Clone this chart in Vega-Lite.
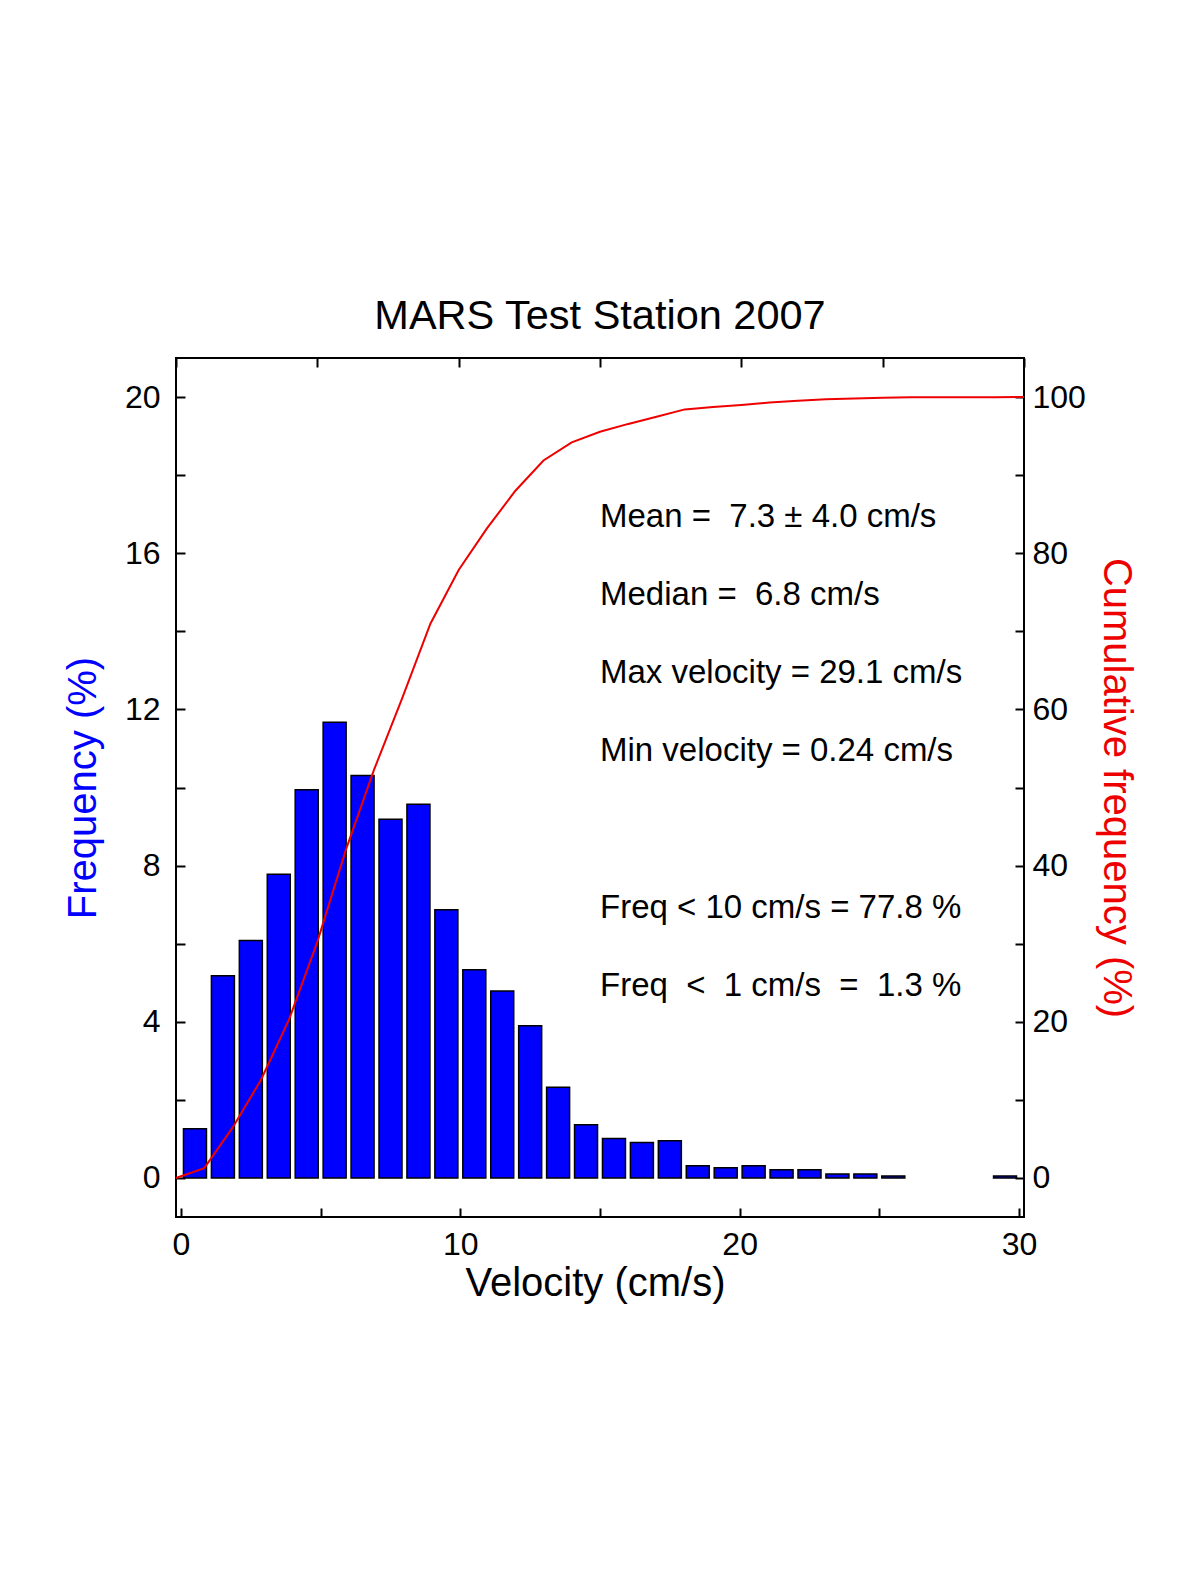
{
  "$schema": "https://vega.github.io/schema/vega-lite/v6.json",
  "width": 848,
  "height": 859,
  "autosize": {"type": "none"},
  "padding": {"left": 176, "top": 358, "right": 176, "bottom": 358},
  "background": "white",
  "config": {
    "font": "Liberation Sans",
    "view": {"stroke": "black", "strokeWidth": 2},
    "axis": {
      "domain": false,
      "grid": false,
      "tickColor": "black",
      "tickWidth": 2,
      "tickSize": -9,
      "labelFont": "Liberation Sans",
      "labelFontSize": 32,
      "labelColor": "black",
      "titleFont": "Liberation Sans",
      "titleFontSize": 40,
      "titleFontWeight": "normal"
    }
  },
  "title": {
    "text": "MARS Test Station 2007",
    "font": "Liberation Sans",
    "fontSize": 41.5,
    "fontWeight": "normal",
    "color": "black",
    "baseline": "alphabetic",
    "offset": -13
  },
  "datasets": {
    "hist": [
      {"velocity": 0.5, "freq": 1.26},
      {"velocity": 1.5, "freq": 5.18},
      {"velocity": 2.5, "freq": 6.08},
      {"velocity": 3.5, "freq": 7.78},
      {"velocity": 4.5, "freq": 9.94},
      {"velocity": 5.5, "freq": 11.67},
      {"velocity": 6.5, "freq": 10.31},
      {"velocity": 7.5, "freq": 9.19},
      {"velocity": 8.5, "freq": 9.57},
      {"velocity": 9.5, "freq": 6.87},
      {"velocity": 10.5, "freq": 5.33},
      {"velocity": 11.5, "freq": 4.79},
      {"velocity": 12.5, "freq": 3.9},
      {"velocity": 13.5, "freq": 2.32},
      {"velocity": 14.5, "freq": 1.36},
      {"velocity": 15.5, "freq": 1.01},
      {"velocity": 16.5, "freq": 0.91},
      {"velocity": 17.5, "freq": 0.95},
      {"velocity": 18.5, "freq": 0.31},
      {"velocity": 19.5, "freq": 0.26},
      {"velocity": 20.5, "freq": 0.31},
      {"velocity": 21.5, "freq": 0.21},
      {"velocity": 22.5, "freq": 0.21},
      {"velocity": 23.5, "freq": 0.1},
      {"velocity": 24.5, "freq": 0.1},
      {"velocity": 25.5, "freq": 0.05},
      {"velocity": 29.5, "freq": 0.05}
    ],
    "cum": [
      {"velocity": 0, "cum": 0},
      {"velocity": 1, "cum": 1.26},
      {"velocity": 2, "cum": 6.44},
      {"velocity": 3, "cum": 12.52},
      {"velocity": 4, "cum": 20.3},
      {"velocity": 5, "cum": 30.24},
      {"velocity": 6, "cum": 41.91},
      {"velocity": 7, "cum": 52.22},
      {"velocity": 8, "cum": 61.41},
      {"velocity": 9, "cum": 70.98},
      {"velocity": 10, "cum": 77.85},
      {"velocity": 11, "cum": 83.18},
      {"velocity": 12, "cum": 87.97},
      {"velocity": 13, "cum": 91.87},
      {"velocity": 14, "cum": 94.19},
      {"velocity": 15, "cum": 95.55},
      {"velocity": 16, "cum": 96.56},
      {"velocity": 17, "cum": 97.47},
      {"velocity": 18, "cum": 98.42},
      {"velocity": 19, "cum": 98.73},
      {"velocity": 20, "cum": 98.99},
      {"velocity": 21, "cum": 99.3},
      {"velocity": 22, "cum": 99.51},
      {"velocity": 23, "cum": 99.72},
      {"velocity": 24, "cum": 99.82},
      {"velocity": 25, "cum": 99.92},
      {"velocity": 26, "cum": 99.97},
      {"velocity": 27, "cum": 99.97},
      {"velocity": 28, "cum": 99.97},
      {"velocity": 29, "cum": 99.97},
      {"velocity": 30, "cum": 100}
    ],
    "notes": [
      {"x": 15, "y": 17, "label": "Mean =\u00a0 7.3 ± 4.0 cm/s"},
      {"x": 15, "y": 15, "label": "Median =\u00a0 6.8 cm/s"},
      {"x": 15, "y": 13, "label": "Max velocity = 29.1 cm/s"},
      {"x": 15, "y": 11, "label": "Min velocity = 0.24 cm/s"},
      {"x": 15, "y": 7, "label": "Freq < 10 cm/s = 77.8 %"},
      {"x": 15, "y": 5, "label": "Freq\u00a0 <\u00a0 1 cm/s\u00a0 =\u00a0 1.3 %"}
    ]
  },
  "layer": [
    {
      "layer": [
        {
          "data": {"name": "hist"},
          "mark": {"type": "bar", "color": "#0000ff", "stroke": "black", "strokeWidth": 1.5, "size": 23},
          "encoding": {
            "x": {
              "field": "velocity",
              "type": "quantitative",
              "scale": {"domain": [0, 30], "nice": false, "zero": false},
              "axis": {
                "orient": "bottom",
                "values": [0, 5, 10, 15, 20, 25, 30],
                "labelExpr": "datum.value % 10 === 0 ? datum.label : ''",
                "labelPadding": 21,
                "title": "Velocity (cm/s)",
                "titleColor": "black",
                "titleX": 419,
                "titleY": 66,
                "titleAlign": "center",
                "titleBaseline": "middle"
              }
            },
            "y": {
              "field": "freq",
              "type": "quantitative",
              "scale": {"domain": [-1, 21], "nice": false, "zero": false},
              "axis": {
                "orient": "left",
                "values": [0, 2, 4, 6, 8, 10, 12, 14, 16, 18, 20],
                "labelExpr": "datum.value % 4 === 0 ? datum.label : ''",
                "labelPadding": 25,
                "title": "Frequency (%)",
                "titleColor": "#0000ff",
                "titleAngle": 270,
                "titleX": -93,
                "titleY": 429.5,
                "titleAlign": "center",
                "titleBaseline": "middle"
              }
            },
            "y2": {"datum": 0}
          }
        },
        {
          "mark": {"type": "rule", "color": "black", "strokeWidth": 2},
          "encoding": {"y": {"datum": 0}}
        },
        {
          "data": {"name": "notes"},
          "mark": {"type": "text", "align": "left", "baseline": "middle", "dy": 3, "fontSize": 33, "color": "black", "font": "Liberation Sans"},
          "encoding": {
            "x": {"field": "x", "type": "quantitative"},
            "y": {"field": "y", "type": "quantitative"},
            "text": {"field": "label"}
          }
        }
      ]
    },
    {
      "data": {"name": "cum"},
      "mark": {"type": "line", "color": "#ee0000", "strokeWidth": 2},
      "encoding": {
        "x": {
          "field": "velocity",
          "type": "quantitative",
          "scale": {"domain": [0, 30], "nice": false, "zero": false},
          "axis": {
            "orient": "top",
            "values": [0, 5, 10, 15, 20, 25, 30],
            "labels": false,
            "title": null
          }
        },
        "y": {
          "field": "cum",
          "type": "quantitative",
          "scale": {"domain": [-5, 105], "nice": false, "zero": false},
          "axis": {
            "orient": "right",
            "values": [0, 10, 20, 30, 40, 50, 60, 70, 80, 90, 100],
            "labelExpr": "datum.value % 20 === 0 ? datum.label : ''",
            "labelPadding": 17,
            "title": "Cumulative frequency (%)",
            "titleColor": "#ee0000",
            "titleAngle": 90,
            "titleX": 91,
            "titleY": 429.5,
            "titleAlign": "center",
            "titleBaseline": "middle"
          }
        }
      }
    }
  ],
  "resolve": {"scale": {"x": "independent", "y": "independent"}}
}
